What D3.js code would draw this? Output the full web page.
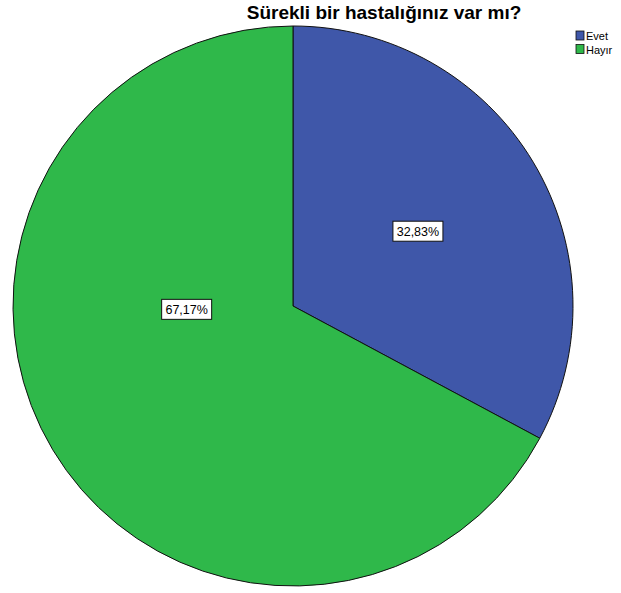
<!DOCTYPE html>
<html>
<head>
<meta charset="utf-8">
<script src="https://cdn.jsdelivr.net/npm/d3@7"></script>
<style>
  body { margin: 0; background: #fff; }
  svg { display: block; }
</style>
</head>
<body>
<svg width="621" height="593"></svg>
<script>
// data
var categories = ["Evet", "Hayır"];
var values = [32.83, 67.17];
var labels = ["32,83%", "67,17%"];
var colors = ["#3f57a9", "#2fb84a"];

var svg = d3.select("svg"),
    cx = 293,
    cy = 306,
    radius = 280;

// title
svg.append("text")
  .attr("x", 384)
  .attr("y", 19)
  .attr("text-anchor", "middle")
  .style("font-family", "Liberation Sans, Arial, sans-serif")
  .style("font-weight", "bold")
  .style("font-size", "19px")
  .text("Sürekli bir hastalığınız var mı?");

var pie = d3.pie().sort(null).value(function(d) { return d; });
var arcs = pie(values);

var arc = d3.arc().innerRadius(0).outerRadius(radius);

var g = svg.append("g")
  .attr("transform", "translate(" + cx + "," + cy + ")");

g.selectAll("path")
  .data(arcs)
  .enter()
  .append("path")
  .attr("d", arc)
  .style("fill", function(d, i) { return colors[i]; })
  .style("stroke", "#111")
  .style("stroke-width", 1);

// label placement like SPSS: small slice at mid angle, big slice pulled to the left
function labelPos(d, i) {
  var a, r;
  if (i === 0) { a = (d.startAngle + d.endAngle) / 2; r = radius * 0.52; }
  else { a = Math.PI * 1.49; r = radius * 0.38; }
  return [Math.sin(a) * r, -Math.cos(a) * r];
}

var lab = g.selectAll("g.lab")
  .data(arcs)
  .enter()
  .append("g")
  .attr("class", "lab")
  .attr("transform", function(d, i) {
    var c = labelPos(d, i);
    return "translate(" + c[0] + "," + c[1] + ")";
  });

lab.append("rect")
  .attr("x", -25)
  .attr("y", -10)
  .attr("width", 50)
  .attr("height", 20)
  .style("fill", "#fff")
  .style("stroke", "#111")
  .style("stroke-width", 1);

lab.append("text")
  .attr("text-anchor", "middle")
  .attr("y", 4.5)
  .style("font-family", "Liberation Sans, Arial, sans-serif")
  .style("font-size", "12.5px")
  .text(function(d, i) { return labels[i]; });

// legend
var legend = svg.append("g")
  .attr("transform", "translate(576,31)");

var item = legend.selectAll("g")
  .data(categories)
  .enter()
  .append("g")
  .attr("transform", function(d, i) { return "translate(0," + (i * 13.5) + ")"; });

item.append("rect")
  .attr("width", 8)
  .attr("height", 9)
  .style("fill", function(d, i) { return colors[i]; })
  .style("stroke", "#111")
  .style("stroke-width", 0.8);

item.append("text")
  .attr("x", 10)
  .attr("y", 9)
  .style("font-family", "Liberation Sans, Arial, sans-serif")
  .style("font-size", "11px")
  .text(function(d) { return d; });
</script>
</body>
</html>
